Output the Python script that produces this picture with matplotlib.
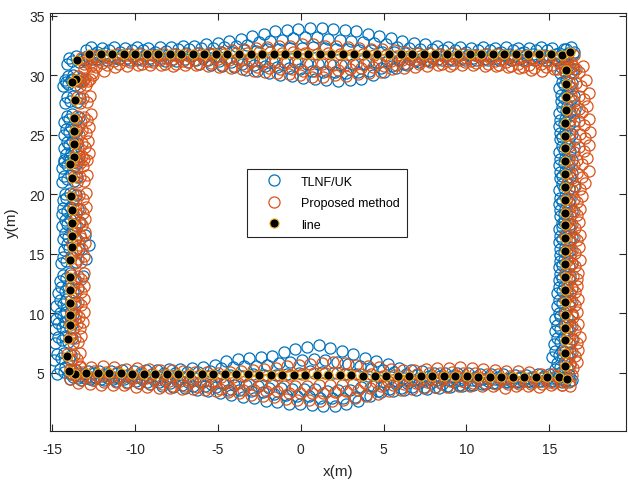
import numpy as np
import matplotlib
matplotlib.use("Agg")
import matplotlib.pyplot as plt

plt.rcParams["font.family"] = ["Liberation Sans", "DejaVu Sans"]
plt.rcParams["axes.unicode_minus"] = False

# reference trajectory ("line"), one pair of arrays per side of the rectangle
bottom_x = [-13.65, -12.95, -12.26, -11.56, -10.87, -10.17, -9.47, -8.78, -8.08, -7.39,
            -6.69, -5.99, -5.30, -4.60, -3.91, -3.21, -2.51, -1.82, -1.12, -0.43,
            0.27, 0.97, 1.66, 2.36, 3.05, 3.75, 4.45, 5.14, 5.84, 6.53,
            7.23, 7.93, 8.62, 9.32, 10.01, 10.71, 11.41, 12.10, 12.80, 13.49,
            14.19, 14.89, 15.58, 16.06]
bottom_y = [4.95, 4.98, 4.97, 4.97, 4.96, 4.95, 4.95, 4.94, 4.93, 4.92,
            4.91, 4.90, 4.90, 4.89, 4.88, 4.87, 4.86, 4.85, 4.84, 4.83,
            4.82, 4.81, 4.80, 4.80, 4.79, 4.78, 4.77, 4.76, 4.75, 4.74,
            4.73, 4.72, 4.71, 4.70, 4.70, 4.69, 4.68, 4.67, 4.66, 4.66,
            4.65, 4.65, 4.66, 4.50]

right_x = [16.02, 15.99, 15.99, 15.98, 15.97, 15.97, 15.97, 15.97, 15.97, 15.97,
           15.97, 15.97, 15.97, 15.97, 15.97, 15.97, 15.96, 15.96, 15.96, 15.96,
           15.96, 15.96, 15.96, 15.96]
right_y = [30.48, 29.28, 28.19, 27.11, 26.03, 24.94, 23.86, 22.78, 21.69, 20.64,
           19.53, 18.47, 17.39, 16.33, 15.25, 14.17, 13.08, 12.00, 10.94, 9.86,
           8.81, 7.73, 6.64, 5.61]

top_x = [-12.79, -12.09, -11.40, -10.70, -10.00, -9.31, -8.61, -7.91, -7.22, -6.52,
         -5.82, -5.12, -4.43, -3.73, -3.03, -2.34, -1.64, -0.94, -0.25, 0.45,
         1.15, 1.84, 2.54, 3.24, 3.93, 4.63, 5.33, 6.02, 6.72, 7.42,
         8.11, 8.81, 9.51, 10.20, 10.90, 11.60, 12.29, 12.99, 13.69, 14.38,
         15.08, 15.76, 16.22]
top_y = [31.82, 31.81, 31.80, 31.80, 31.81, 31.80, 31.80, 31.79, 31.80, 31.80,
         31.80, 31.81, 31.80, 31.80, 31.79, 31.80, 31.80, 31.80, 31.81, 31.80,
         31.80, 31.80, 31.79, 31.80, 31.80, 31.80, 31.81, 31.80, 31.80, 31.80,
         31.79, 31.80, 31.80, 31.80, 31.81, 31.80, 31.80, 31.80, 31.79, 31.80,
         31.80, 31.72, 32.00]

left_x = [-13.49, -13.55, -13.84, -13.63, -13.69, -13.69, -13.72, -13.69, -13.92, -13.80,
          -13.86, -13.84, -13.81, -13.84, -13.80, -13.96, -13.96, -13.96, -13.96, -13.96,
          -13.93, -14.04, -14.10, -14.02]
left_y = [31.30, 29.72, 29.42, 27.97, 26.42, 25.33, 24.22, 23.17, 22.56, 21.36,
          19.83, 18.67, 17.61, 16.53, 15.61, 14.50, 13.06, 12.00, 10.89, 9.86,
          9.00, 7.83, 6.39, 5.17]

# TLNF/UK estimates: cross-track error (m) of each run along each side
tlnf_top = [
    [0.6, 0.5, 0.6, 0.5, 0.6, 0.5, 0.6, 0.6, 0.7, 0.7, 0.8, 0.9, 1.1, 1.3, 1.5, 1.7, 1.9, 2.0, 2.1, 2.2,
     2.2, 2.1, 2.0, 1.9, 1.7, 1.5, 1.3, 1.1, 0.9, 0.8, 0.7, 0.6, 0.6, 0.5, 0.6, 0.5, 0.6, 0.5, 0.5, 0.6,
     0.5, 0.5, 0.4],
    [0.3, 0.2, 0.3, 0.2, 0.3, 0.3, 0.2, 0.3, 0.4, 0.4, 0.5, 0.5, 0.6, 0.7, 0.8, 1.0, 1.1, 1.2, 1.3, 1.4,
     1.4, 1.3, 1.2, 1.1, 1.0, 0.9, 0.8, 0.6, 0.5, 0.4, 0.4, 0.3, 0.3, 0.2, 0.3, 0.3, 0.2, 0.3, 0.2, 0.3,
     0.3, 0.2, 0.2],
    [0.0, 0.1, -0.1, 0.0, 0.1, 0.0, -0.1, 0.0, 0.1, 0.1, 0.1, 0.2, 0.2, 0.3, 0.3, 0.4, 0.4, 0.5, 0.5, 0.6,
     0.5, 0.4, 0.4, 0.3, 0.3, 0.2, 0.2, 0.1, 0.1, 0.1, 0.0, 0.1, 0.0, -0.1, 0.0, 0.1, 0.0, 0.1, 0.0, -0.1,
     0.0, 0.1, 0.0],
    [-0.2, -0.1, -0.2, -0.1, -0.2, -0.2, -0.1, -0.2, -0.2, -0.2, -0.3, -0.3, -0.4, -0.4, -0.5, -0.5, -0.6, -0.7, -0.7, -0.8,
     -0.8, -0.8, -0.9, -0.8, -0.8, -0.7, -0.6, -0.5, -0.4, -0.3, -0.3, -0.2, -0.2, -0.1, -0.2, -0.2, -0.1, -0.2, -0.1, -0.2,
     -0.2, -0.1, -0.1],
    [-0.4, -0.3, -0.3, -0.3, -0.4, -0.3, -0.3, -0.4, -0.4, -0.5, -0.5, -0.6, -0.7, -0.8, -0.9, -1.0, -1.1, -1.2, -1.3, -1.4,
     -1.5, -1.5, -1.6, -1.5, -1.4, -1.2, -1.0, -0.8, -0.6, -0.5, -0.4, -0.4, -0.3, -0.3, -0.4, -0.3, -0.3, -0.4, -0.3, -0.3,
     -0.3, -0.3, -0.2],
    [-0.5, -0.4, -0.5, -0.4, -0.5, -0.5, -0.5, -0.6, -0.6, -0.7, -0.8, -0.9, -1.0, -1.1, -1.3, -1.4, -1.6, -1.8, -1.9, -2.0,
     -2.1, -2.2, -2.3, -2.2, -2.1, -1.8, -1.5, -1.2, -0.9, -0.7, -0.6, -0.5, -0.5, -0.5, -0.5, -0.5, -0.5, -0.5, -0.5, -0.5,
     -0.5, -0.4, -0.4],
]
tlnf_bottom = [
    [0.3, 0.2, 0.2, 0.2, 0.3, 0.2, 0.3, 0.3, 0.4, 0.4, 0.5, 0.6, 0.8, 1.1, 1.3, 1.4, 1.5, 1.6, 1.9, 2.2,
     2.4, 2.5, 2.3, 2.0, 1.8, 1.5, 1.2, 1.0, 0.7, 0.5, 0.4, 0.3, 0.3, 0.3, 0.3, 0.2, 0.2, 0.2, 0.2, 0.2,
     0.3, 0.3, 0.4, 0.3],
    [0.0, -0.1, 0.0, -0.1, 0.0, -0.1, 0.0, 0.0, 0.1, 0.1, 0.2, 0.2, 0.3, 0.5, 0.6, 0.7, 0.7, 0.8, 1.0, 1.1,
     1.3, 1.4, 1.3, 1.1, 1.0, 0.8, 0.6, 0.5, 0.3, 0.2, 0.1, 0.0, 0.0, 0.0, -0.1, 0.0, -0.1, 0.0, -0.1, 0.0,
     0.0, 0.1, 0.1, 0.0],
    [-0.2, -0.3, -0.2, -0.3, -0.2, -0.3, -0.3, -0.3, -0.3, -0.3, -0.3, -0.2, -0.2, -0.1, -0.1, 0.0, 0.0, 0.0, 0.1, 0.2,
     0.3, 0.3, 0.2, 0.1, 0.1, 0.0, -0.1, -0.1, -0.2, -0.3, -0.3, -0.3, -0.3, -0.3, -0.3, -0.2, -0.2, -0.2, -0.1, -0.1,
     -0.1, -0.1, 0.0, -0.1],
    [-0.3, -0.4, -0.4, -0.4, -0.4, -0.4, -0.5, -0.5, -0.6, -0.6, -0.7, -0.7, -0.8, -0.8, -0.9, -0.9, -1.0, -1.1, -1.1, -1.2,
     -1.2, -1.2, -1.3, -1.2, -1.2, -1.0, -0.9, -0.8, -0.7, -0.6, -0.6, -0.6, -0.6, -0.5, -0.5, -0.4, -0.4, -0.3, -0.3, -0.3,
     -0.3, -0.2, -0.2, -0.2],
    [-0.4, -0.5, -0.5, -0.5, -0.5, -0.6, -0.7, -0.7, -0.8, -0.9, -1.0, -1.0, -1.1, -1.3, -1.3, -1.4, -1.5, -1.6, -1.7, -1.8,
     -1.8, -1.9, -1.9, -1.9, -1.8, -1.6, -1.3, -1.1, -1.0, -0.9, -0.9, -0.9, -0.8, -0.7, -0.7, -0.6, -0.5, -0.4, -0.4, -0.3,
     -0.3, -0.3, -0.2, -0.2],
    [-0.5, -0.6, -0.6, -0.6, -0.6, -0.7, -0.8, -0.9, -1.0, -1.1, -1.2, -1.3, -1.4, -1.6, -1.7, -1.9, -2.0, -2.2, -2.3, -2.4,
     -2.4, -2.5, -2.6, -2.6, -2.4, -2.1, -1.7, -1.4, -1.3, -1.2, -1.2, -1.1, -1.0, -0.9, -0.8, -0.7, -0.6, -0.5, -0.4, -0.4,
     -0.4, -0.3, -0.3, -0.3],
]
tlnf_right = [
    [0.5, 0.4, 0.5, 0.6, 0.5, 0.4, 0.5, 0.4, 0.4, 0.5, 0.3, 0.4, 0.3, 0.4, 0.3, 0.4, 0.3, 0.4, 0.3, 0.4, 0.3, 0.4, 0.3, 0.3],
    [0.3, 0.2, 0.3, 0.3, 0.2, 0.2, 0.3, 0.2, 0.3, 0.2, 0.2, 0.1, 0.2, 0.2, 0.1, 0.2, 0.2, 0.1, 0.2, 0.1, 0.1, 0.2, 0.1, 0.1],
    [0.1, 0.0, 0.1, 0.1, 0.0, 0.0, 0.1, 0.0, 0.0, 0.1, 0.0, 0.0, -0.1, 0.0, 0.0, -0.1, 0.0, -0.1, 0.0, -0.1, -0.1, -0.1, -0.2, -0.1],
    [-0.1, -0.1, -0.1, 0.0, -0.1, -0.2, -0.1, -0.1, -0.2, -0.1, -0.2, -0.1, -0.2, -0.2, -0.1, -0.2, -0.2, -0.2, -0.2, -0.3, -0.3, -0.3, -0.4, -0.3],
    [-0.3, -0.2, -0.3, -0.2, -0.3, -0.3, -0.2, -0.3, -0.3, -0.2, -0.3, -0.3, -0.2, -0.3, -0.3, -0.3, -0.3, -0.4, -0.4, -0.4, -0.5, -0.5, -0.6, -0.5],
    [-0.4, -0.4, -0.3, -0.4, -0.4, -0.3, -0.4, -0.4, -0.3, -0.4, -0.4, -0.3, -0.4, -0.4, -0.3, -0.4, -0.4, -0.5, -0.5, -0.6, -0.6, -0.7, -0.8, -0.6],
]
tlnf_left = [
    [0.3, 0.3, 0.5, 0.3, 0.3, 0.2, 0.2, 0.3, 0.4, 0.3, 0.3, 0.4, 0.5, 0.8, 1.0, 1.0, 0.8, 0.5, 0.3, 0.2, 0.1, 0.2, 0.2, 0.2],
    [0.1, 0.1, 0.2, 0.1, 0.1, 0.0, 0.1, 0.1, 0.2, 0.1, 0.1, 0.1, 0.2, 0.3, 0.4, 0.4, 0.3, 0.2, 0.1, 0.0, 0.0, 0.0, 0.1, 0.0],
    [-0.1, -0.2, 0.0, -0.1, -0.1, -0.2, -0.1, -0.2, 0.0, -0.1, -0.1, -0.1, -0.1, 0.0, 0.0, 0.1, 0.0, -0.1, -0.2, -0.2, -0.3, -0.2, -0.2, -0.2],
    [-0.3, -0.3, -0.2, -0.3, -0.3, -0.3, -0.3, -0.3, -0.2, -0.3, -0.3, -0.3, -0.3, -0.2, -0.2, -0.2, -0.2, -0.3, -0.4, -0.4, -0.5, -0.4, -0.4, -0.3],
    [-0.5, -0.5, -0.4, -0.5, -0.4, -0.5, -0.4, -0.5, -0.4, -0.5, -0.4, -0.5, -0.4, -0.4, -0.3, -0.4, -0.4, -0.5, -0.6, -0.6, -0.7, -0.6, -0.6, -0.5],
    [-0.6, -0.6, -0.5, -0.6, -0.6, -0.6, -0.6, -0.6, -0.5, -0.6, -0.5, -0.6, -0.6, -0.5, -0.5, -0.5, -0.6, -0.7, -0.8, -0.8, -0.9, -0.8, -0.8, -0.7],
]
tlnf_shift = [0.1, -0.2, 0.3, -0.1, 0.2, -0.3]

# proposed method estimates, same layout
prop_top = [
    [-0.3, -0.2, 0.0, 0.1, 0.0, -0.1, 0.1, 0.0, 0.0, 0.1, 0.1, 0.2, 0.3, 0.4, 0.5, 0.6, 0.7, 0.7, 0.8, 0.8,
     0.7, 0.7, 0.6, 0.5, 0.4, 0.4, 0.3, 0.2, 0.1, 0.1, 0.0, 0.1, 0.0, -0.1, 0.0, 0.0, -0.1, -0.2, -0.3, -0.2,
     -0.3, -0.4, -0.3],
    [-0.7, -0.5, -0.3, -0.3, -0.2, -0.3, -0.2, -0.3, -0.2, -0.2, -0.1, 0.0, 0.0, 0.1, 0.1, 0.2, 0.2, 0.1, 0.2, 0.1,
     0.0, 0.1, 0.0, -0.1, 0.0, -0.1, -0.1, -0.2, -0.2, -0.2, -0.3, -0.2, -0.3, -0.3, -0.2, -0.3, -0.4, -0.5, -0.6, -0.5,
     -0.6, -0.7, -0.6],
    [-1.0, -0.8, -0.6, -0.5, -0.5, -0.6, -0.5, -0.5, -0.6, -0.5, -0.5, -0.4, -0.5, -0.5, -0.6, -0.6, -0.7, -0.7, -0.8, -0.8,
     -0.8, -0.9, -0.9, -0.8, -0.7, -0.7, -0.6, -0.5, -0.5, -0.5, -0.5, -0.6, -0.5, -0.6, -0.5, -0.6, -0.7, -0.8, -0.9, -0.8,
     -0.9, -1.0, -0.9],
    [-1.3, -1.1, -0.9, -0.8, -0.7, -0.8, -0.7, -0.8, -0.8, -0.7, -0.8, -0.8, -0.9, -1.0, -1.0, -1.1, -1.2, -1.3, -1.3, -1.4,
     -1.4, -1.4, -1.3, -1.3, -1.2, -1.1, -1.0, -0.9, -0.8, -0.8, -0.7, -0.8, -0.8, -0.7, -0.8, -0.8, -0.9, -1.0, -1.1, -1.2,
     -1.1, -1.2, -1.1],
    [-1.6, -1.4, -1.1, -1.0, -0.9, -0.9, -0.9, -1.0, -0.9, -0.9, -1.0, -1.1, -1.2, -1.3, -1.4, -1.5, -1.6, -1.7, -1.8, -1.9,
     -1.9, -1.8, -1.8, -1.7, -1.6, -1.5, -1.3, -1.2, -1.1, -1.0, -0.9, -1.0, -0.9, -0.9, -1.0, -1.0, -1.1, -1.2, -1.3, -1.4,
     -1.3, -1.4, -1.2],
]
prop_bottom = [
    [0.6, 0.5, 0.6, 0.5, 0.4, 0.5, 0.4, 0.3, 0.3, 0.2, 0.2, 0.2, 0.1, 0.2, 0.3, 0.4, 0.5, 0.6, 0.7, 0.8,
     0.9, 1.0, 1.1, 1.0, 0.9, 0.8, 0.7, 0.6, 0.5, 0.5, 0.6, 0.7, 0.7, 0.8, 0.7, 0.6, 0.6, 0.5, 0.5, 0.4,
     0.3, 0.3, 0.4, 0.3],
    [0.2, 0.1, 0.2, 0.1, 0.1, 0.0, 0.1, 0.0, -0.1, -0.1, -0.2, -0.2, -0.2, -0.2, -0.2, -0.1, -0.1, -0.1, 0.0, 0.0,
     0.1, 0.2, 0.2, 0.2, 0.1, 0.1, 0.1, 0.0, 0.1, 0.1, 0.2, 0.3, 0.3, 0.4, 0.3, 0.3, 0.2, 0.2, 0.1, 0.1,
     0.0, 0.0, 0.1, 0.0],
    [-0.2, -0.3, -0.2, -0.3, -0.4, -0.4, -0.4, -0.5, -0.6, -0.6, -0.6, -0.7, -0.7, -0.7, -0.7, -0.8, -0.8, -0.8, -0.9, -0.9,
     -0.9, -0.8, -0.8, -0.8, -0.7, -0.6, -0.5, -0.4, -0.3, -0.3, -0.2, -0.2, -0.1, 0.0, -0.1, -0.1, -0.2, -0.2, -0.3, -0.3,
     -0.3, -0.4, -0.3, -0.3],
    [-0.5, -0.6, -0.6, -0.7, -0.7, -0.8, -0.8, -0.9, -0.9, -1.0, -1.0, -1.1, -1.1, -1.2, -1.2, -1.3, -1.3, -1.4, -1.4, -1.5,
     -1.5, -1.5, -1.5, -1.4, -1.3, -1.2, -1.0, -0.9, -0.8, -0.7, -0.6, -0.5, -0.5, -0.4, -0.4, -0.5, -0.5, -0.6, -0.6, -0.6,
     -0.6, -0.6, -0.5, -0.5],
    [-0.8, -0.9, -1.0, -1.0, -1.0, -1.1, -1.1, -1.2, -1.2, -1.3, -1.3, -1.3, -1.4, -1.5, -1.6, -1.7, -1.8, -1.9, -2.0, -2.1,
     -2.1, -2.2, -2.2, -2.1, -1.9, -1.7, -1.5, -1.3, -1.2, -1.1, -1.0, -0.9, -0.9, -0.8, -0.8, -0.8, -0.8, -0.9, -0.8, -0.8,
     -0.8, -0.7, -0.7, -0.6],
]
prop_right = [
    [1.0, 1.2, 1.4, 1.3, 1.4, 1.5, 1.4, 1.3, 1.4, 1.2, 1.0, 0.9, 0.8, 0.9, 0.8, 0.9, 0.8, 0.7, 0.8, 0.7, 0.8, 0.9, 0.8, 0.7],
    [0.8, 0.9, 1.1, 1.0, 1.1, 1.2, 1.1, 1.0, 1.0, 0.9, 0.7, 0.7, 0.6, 0.7, 0.6, 0.6, 0.7, 0.6, 0.6, 0.5, 0.6, 0.7, 0.6, 0.5],
    [0.6, 0.6, 0.8, 0.8, 0.8, 0.9, 0.8, 0.7, 0.7, 0.6, 0.5, 0.5, 0.4, 0.5, 0.4, 0.4, 0.5, 0.4, 0.4, 0.4, 0.4, 0.5, 0.4, 0.3],
    [0.4, 0.4, 0.5, 0.5, 0.5, 0.6, 0.5, 0.5, 0.4, 0.4, 0.3, 0.3, 0.3, 0.3, 0.3, 0.2, 0.3, 0.3, 0.2, 0.2, 0.2, 0.3, 0.2, 0.2],
    [0.2, 0.2, 0.3, 0.2, 0.3, 0.3, 0.2, 0.2, 0.2, 0.1, 0.1, 0.1, 0.1, 0.0, 0.1, 0.1, 0.0, 0.1, 0.0, 0.0, 0.0, 0.1, -0.1, 0.0],
]
prop_left = [
    [1.0, 1.0, 1.1, 0.9, 1.0, 0.9, 0.9, 0.9, 1.0, 0.9, 0.9, 0.9, 0.8, 0.8, 0.8, 0.9, 0.9, 0.9, 0.9, 0.9, 0.8, 0.8, 0.8, 0.7],
    [0.8, 0.7, 0.9, 0.7, 0.8, 0.7, 0.7, 0.6, 0.8, 0.7, 0.7, 0.7, 0.6, 0.6, 0.6, 0.7, 0.7, 0.7, 0.7, 0.6, 0.6, 0.6, 0.6, 0.5],
    [0.6, 0.5, 0.7, 0.5, 0.6, 0.5, 0.5, 0.5, 0.6, 0.5, 0.5, 0.5, 0.4, 0.5, 0.4, 0.5, 0.5, 0.5, 0.5, 0.4, 0.4, 0.4, 0.4, 0.4],
    [0.4, 0.3, 0.5, 0.3, 0.4, 0.3, 0.3, 0.3, 0.4, 0.3, 0.3, 0.3, 0.3, 0.3, 0.2, 0.3, 0.3, 0.3, 0.3, 0.3, 0.2, 0.3, 0.2, 0.2],
    [0.2, 0.1, 0.3, 0.1, 0.2, 0.1, 0.1, 0.1, 0.2, 0.1, 0.1, 0.1, 0.1, 0.1, 0.0, 0.1, 0.1, 0.1, 0.1, 0.1, 0.0, 0.1, 0.0, 0.1],
]
prop_shift = [0.3, -0.2, 0.1, -0.3, 0.2]


def side_points(px, py, runs, shifts, horizontal):
    """Estimated positions along one side: cross-track error plus a per-run along-track lag."""
    px, py = np.asarray(px), np.asarray(py)
    xs, ys = [], []
    for err, lag in zip(runs, shifts):
        err = np.asarray(err)
        if horizontal:
            xs.append(px + lag)
            ys.append(py + err)
        else:
            xs.append(px + err)
            ys.append(py + lag)
    return np.concatenate(xs), np.concatenate(ys)


def all_sides(top, bottom, left, right, shifts):
    parts = [
        side_points(top_x, top_y, top, shifts, True),
        side_points(bottom_x, bottom_y, bottom, shifts, True),
        side_points(left_x, left_y, left, shifts, False),
        side_points(right_x, right_y, right, shifts, False),
    ]
    return np.concatenate([p[0] for p in parts]), np.concatenate([p[1] for p in parts])


tlnf_x, tlnf_y = all_sides(tlnf_top, tlnf_bottom, tlnf_left, tlnf_right, tlnf_shift)
prop_x, prop_y = all_sides(prop_top, prop_bottom, prop_left, prop_right, prop_shift)
line_x = np.concatenate([bottom_x, right_x, top_x, left_x])
line_y = np.concatenate([bottom_y, right_y, top_y, left_y])

fig = plt.figure(figsize=(6.28, 4.85), dpi=100)
ax = fig.add_axes([0.0796, 0.1093, 0.9172, 0.8612])

ax.plot(tlnf_x, tlnf_y, "o", ls="none", ms=8, mfc="none", mec="#0072BD", mew=0.9, label="TLNF/UK")
ax.plot(prop_x, prop_y, "o", ls="none", ms=8, mfc="none", mec="#D95319", mew=0.9, label="Proposed method")
ax.plot(line_x, line_y, "o", ls="none", ms=6.6, mfc="black", mec="#EDB120", mew=0.8, label="line")

ax.set_xlim(-15.14, 19.63)
ax.set_ylim(0.12, 35.22)
ax.set_xticks(range(-15, 16, 5))
ax.set_yticks(range(5, 36, 5))
ax.tick_params(direction="in", top=True, right=True, length=5, width=0.8,
               colors="#262626", labelsize=10)
ax.tick_params(axis="x", pad=8)
ax.tick_params(axis="y", pad=4)
for sp in ax.spines.values():
    sp.set_color("#262626")
    sp.set_linewidth(0.8)

ax.set_xlabel("x(m)", fontsize=11, color="#262626", labelpad=6)
ax.set_ylabel("y(m)", fontsize=11, color="#262626", labelpad=7)

leg = ax.legend(loc="upper left", bbox_to_anchor=(0.3928, 0.6495), bbox_transform=fig.transFigure,
                borderaxespad=0, fontsize=9, fancybox=False, framealpha=1, edgecolor="#262626",
                handlelength=3.3, handletextpad=0.5, borderpad=0.55, labelspacing=0.75)
leg.get_frame().set_linewidth(0.8)

fig.savefig("out.png", dpi=100)
